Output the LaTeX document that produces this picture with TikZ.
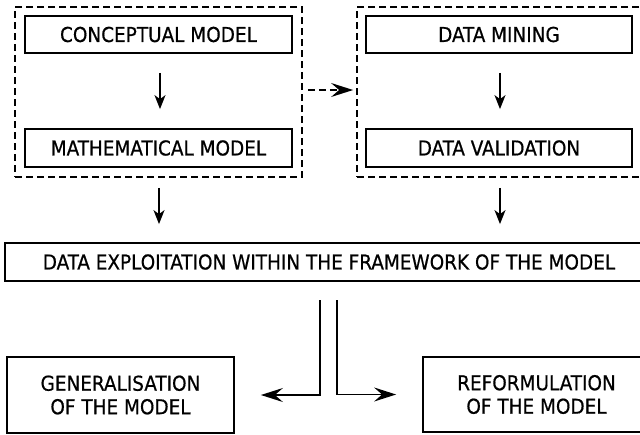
\documentclass[tikz,border=0pt]{standalone}
\usepackage{fontspec}
\newfontfamily\boxfont[FakeBold=0.6]{DejaVu Sans Condensed}
\usetikzlibrary{arrows.meta}
\begin{document}
\begin{tikzpicture}[x=1pt,y=-1pt,
  every node/.style={font=\boxfont\fontsize{20.5}{23.5}\selectfont},
  box/.style={draw, line width=1.8pt, inner sep=0pt, minimum height=37pt},
  group/.style={draw, dash pattern=on 7pt off 4pt, line width=1.8pt, inner sep=0pt,
                minimum width=287pt, minimum height=170pt},
  arr/.style={line width=1.6pt, -{Stealth[length=14pt,width=11pt,inset=4pt]}},
  bigarr/.style={line width=1.6pt, -{Stealth[length=22pt,width=14pt,inset=8pt]}},
  darr/.style={bigarr, dash pattern=on 7pt off 4pt}
]
\useasboundingbox (0,0) rectangle (640,434);

% first stage: modelling
\node[group] (leftgrp) at (158.5,92) {};
\node[box, minimum width=267pt] (concept) at (158.5,34.5) {CONCEPTUAL MODEL};
\node[box, minimum width=267pt, minimum height=38pt] (math) at (158.5,148) {MATHEMATICAL MODEL};

% second stage: data
\node[group] (rightgrp) at (500.5,92) {};
\node[box, minimum width=266pt] (mining) at (499,34.5) {DATA MINING};
\node[box, minimum width=266pt, minimum height=38pt] (valid) at (499,148) {DATA VALIDATION};

% exploitation
\node[box, minimum width=648pt, minimum height=38pt] (exploit) at (329,262)
  {DATA EXPLOITATION WITHIN THE FRAMEWORK OF THE MODEL};

% outcomes
\node[box, minimum width=227pt, minimum height=76pt, align=center] (gen) at (120.5,395)
  {GENERALISATION\\OF THE MODEL};
\node[box, minimum width=227pt, minimum height=75pt, align=center] (ref) at (536.5,394.5)
  {REFORMULATION\\OF THE MODEL};

% connectors
\draw[arr, shorten <=19pt, shorten >=19pt] (concept.south -| 160,0) -- (math.north -| 160,0);
\draw[arr, shorten <=19pt, shorten >=19pt] (mining.south -| 500,0) -- (valid.north -| 500,0);
\draw[darr, shorten <=5pt, shorten >=3pt] (leftgrp.east |- 0,90) -- (rightgrp.west |- 0,90);
\draw[arr, shorten <=10pt, shorten >=18pt] (leftgrp.south -| 159,0) -- (exploit.north -| 159,0);
\draw[arr, shorten <=10pt, shorten >=18pt] (rightgrp.south -| 500,0) -- (exploit.north -| 500,0);

\coordinate (splitL) at (320,300);
\coordinate (splitR) at (337,300);
\draw[bigarr, shorten >=26pt] (splitL) |- (gen);
\draw[bigarr, shorten >=26pt] (splitR) |- (ref);
\end{tikzpicture}
\end{document}
